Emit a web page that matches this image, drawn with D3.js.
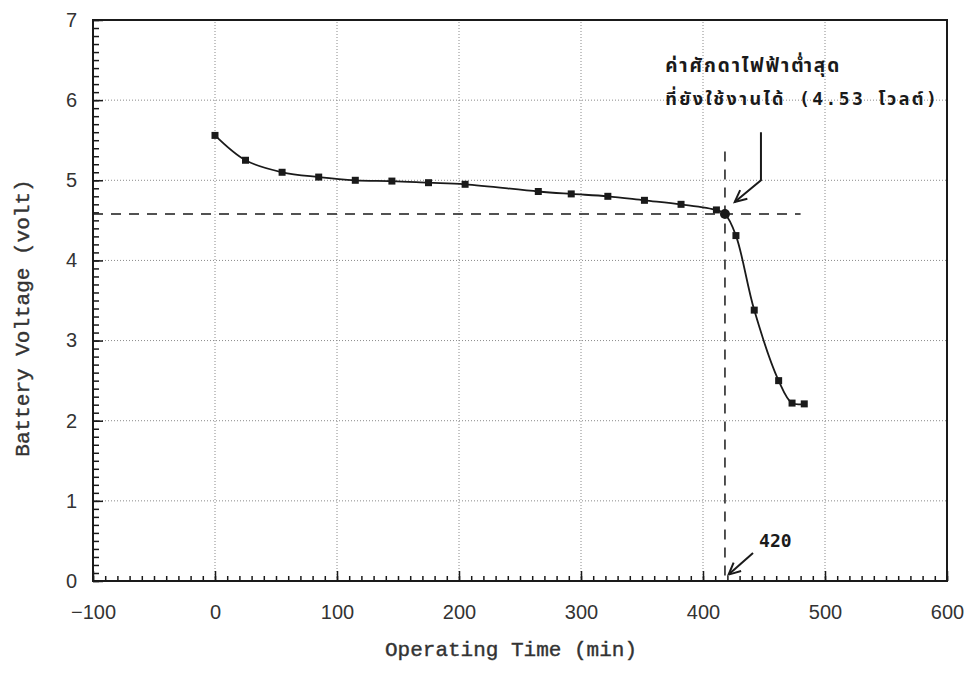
<!DOCTYPE html>
<html>
<head>
<meta charset="utf-8">
<script src="https://cdn.jsdelivr.net/npm/d3@7"></script>
<style>
  html, body { margin: 0; padding: 0; background: #fff; }
  svg { display: block; }
</style>
</head>
<body>
<svg id="chart" width="970" height="677"></svg>
<script>
// ---- data ----
const times = [0, 25, 55, 85, 115, 145, 175, 205, 265, 292, 322, 352, 382, 411, 418, 427, 442, 462, 473, 483];
const volts = [5.56, 5.25, 5.10, 5.04, 5.00, 4.99, 4.97, 4.95, 4.86, 4.83, 4.80, 4.75, 4.70, 4.63, 4.58, 4.31, 3.38, 2.50, 2.22, 2.21];
const cutoffTime = 418;
const cutoffVolt = 4.58;
const xTicks = [-100, 0, 100, 200, 300, 400, 500, 600];
const yTicks = [0, 1, 2, 3, 4, 5, 6, 7];
const xTitle = "Operating Time (min)";
const yTitle = "Battery Voltage (volt)";
const noteLine1 = "ค่าศักดาไฟฟ้าต่ำสุด";
const noteLine2 = "ที่ยังใช้งานได้ (4.53 โวลต์)";
const note420 = "420";

// ---- layout ----
const svg = d3.select("#chart");
const x = d3.scaleLinear().domain([-100, 600]).range([93, 947]);
const y = d3.scaleLinear().domain([0, 7]).range([581, 20]);
const ink = "#1a1a1a";

// grid
const g = svg.append("g");
g.selectAll(".vg").data(xTicks.slice(1, -1)).join("line")
  .attr("x1", d => x(d)).attr("x2", d => x(d))
  .attr("y1", y(0)).attr("y2", y(7))
  .attr("stroke", "#8a8a8a").attr("stroke-width", 1).attr("stroke-dasharray", "1,2");
g.selectAll(".hg").data(yTicks.slice(1, -1)).join("line")
  .attr("x1", x(-100)).attr("x2", x(600))
  .attr("y1", d => y(d)).attr("y2", d => y(d))
  .attr("stroke", "#8a8a8a").attr("stroke-width", 1).attr("stroke-dasharray", "1,2");

// frame
svg.append("rect")
  .attr("x", x(-100)).attr("y", y(7))
  .attr("width", x(600) - x(-100)).attr("height", y(0) - y(7))
  .attr("fill", "none").attr("stroke", ink).attr("stroke-width", 2);

// axes (ticks inward)
const xMinor = d3.range(-100, 601, 10);
const yMinor = d3.range(0, 7.001, 0.1);
const xAxis = svg.append("g").attr("transform", `translate(0,${y(0)})`)
  .call(d3.axisBottom(x).tickValues(xMinor).tickSize(-5).tickFormat(""));
xAxis.select(".domain").remove();
xAxis.selectAll("line").attr("stroke", ink).attr("stroke-width", 1.5);
const xAxisMaj = svg.append("g").attr("transform", `translate(0,${y(0)})`)
  .call(d3.axisBottom(x).tickValues(xTicks).tickSize(-10).tickPadding(24)
    .tickFormat(d => d < 0 ? "\u2212" + Math.abs(d) : d));
xAxisMaj.select(".domain").remove();
xAxisMaj.selectAll("line").attr("stroke", ink).attr("stroke-width", 1.5);
xAxisMaj.selectAll("text").attr("font-family", "'Liberation Sans', Arial, sans-serif")
  .attr("font-size", 20).attr("fill", "#333");

const yAxis = svg.append("g").attr("transform", `translate(${x(-100)},0)`)
  .call(d3.axisLeft(y).tickValues(yMinor).tickSize(-6).tickFormat(""));
yAxis.select(".domain").remove();
yAxis.selectAll("line").attr("stroke", ink).attr("stroke-width", 1.5);
const yAxisMaj = svg.append("g").attr("transform", `translate(${x(-100)},0)`)
  .call(d3.axisLeft(y).tickValues(yTicks).tickSize(-10).tickPadding(16).tickFormat(d3.format("d")));
yAxisMaj.select(".domain").remove();
yAxisMaj.selectAll("line").attr("stroke", ink).attr("stroke-width", 1.5);
yAxisMaj.selectAll("text").attr("font-family", "'Liberation Sans', Arial, sans-serif")
  .attr("font-size", 20).attr("fill", "#333");

// axis titles
svg.append("text").attr("x", 511).attr("y", 656)
  .attr("text-anchor", "middle")
  .attr("font-family", "'Liberation Mono', 'Courier New', monospace")
  .attr("font-size", 21).attr("fill", "#333").attr("stroke", "#333").attr("stroke-width", 0.4)
  .text(xTitle);
svg.append("text").attr("transform", `translate(29,318) rotate(-90)`)
  .attr("text-anchor", "middle")
  .attr("font-family", "'Liberation Mono', 'Courier New', monospace")
  .attr("font-size", 21).attr("fill", "#333").attr("stroke", "#333").attr("stroke-width", 0.4)
  .text(yTitle);

// reference dashed lines
svg.append("line")
  .attr("x1", x(-100)).attr("x2", x(480))
  .attr("y1", y(cutoffVolt)).attr("y2", y(cutoffVolt))
  .attr("stroke", ink).attr("stroke-width", 1.5).attr("stroke-dasharray", "10,8");
svg.append("line")
  .attr("x1", x(cutoffTime)).attr("x2", x(cutoffTime))
  .attr("y1", y(5.36)).attr("y2", y(0))
  .attr("stroke", ink).attr("stroke-width", 1.5).attr("stroke-dasharray", "10,8");

// data line
const pts = times.map((t, i) => [t, volts[i]]);
svg.append("path").datum(pts)
  .attr("d", d3.line().x(d => x(d[0])).y(d => y(d[1])).curve(d3.curveCatmullRom.alpha(0.5)))
  .attr("fill", "none").attr("stroke", ink).attr("stroke-width", 1.8);

// markers
const ms = 7;
svg.selectAll(".pt").data(pts.filter(d => d[0] !== cutoffTime)).join("rect")
  .attr("x", d => x(d[0]) - ms / 2).attr("y", d => y(d[1]) - ms / 2)
  .attr("width", ms).attr("height", ms).attr("fill", ink);
svg.selectAll(".cp").data(pts.filter(d => d[0] === cutoffTime)).join("circle")
  .attr("cx", d => x(d[0])).attr("cy", d => y(d[1])).attr("r", 5).attr("fill", ink);

// annotation arrows
function arrow(pathPts) {
  const p = pathPts.map(d => [x(d[0]), y(d[1])]);
  svg.append("path").attr("d", d3.line()(p))
    .attr("fill", "none").attr("stroke", ink).attr("stroke-width", 2);
  const [a, b] = p.slice(-2);
  const ang = Math.atan2(b[1] - a[1], b[0] - a[0]);
  const L = 13, w = 0.45;
  const h1 = [b[0] - L * Math.cos(ang - w), b[1] - L * Math.sin(ang - w)];
  const h2 = [b[0] - L * Math.cos(ang + w), b[1] - L * Math.sin(ang + w)];
  svg.append("path").attr("d", d3.line()([h1, b, h2]))
    .attr("fill", "none").attr("stroke", ink).attr("stroke-width", 2);
}
arrow([[447.5, 5.60], [447.5, 5.0], [426, 4.73]]);
arrow([[441, 0.35], [421, 0.08]]);

// annotation texts
const noteFont = "'DejaVu Sans Mono', 'Noto Sans Thai', 'Loma', 'Garuda', monospace";
svg.append("text").attr("x", x(369)).attr("y", y(6.35))
  .attr("font-family", noteFont).attr("font-weight", "bold").attr("font-size", 19)
  .attr("letter-spacing", 1.9).attr("fill", ink)
  .text(noteLine1);
svg.append("text").attr("x", x(369)).attr("y", y(5.94))
  .attr("font-family", noteFont).attr("font-weight", "bold").attr("font-size", 18)
  .attr("letter-spacing", 2.4).attr("fill", ink)
  .text(noteLine2);
svg.append("text").attr("x", x(446)).attr("y", y(0.43))
  .attr("font-family", noteFont).attr("font-weight", "bold").attr("font-size", 18).attr("fill", ink)
  .text(note420);
</script>
</body>
</html>
